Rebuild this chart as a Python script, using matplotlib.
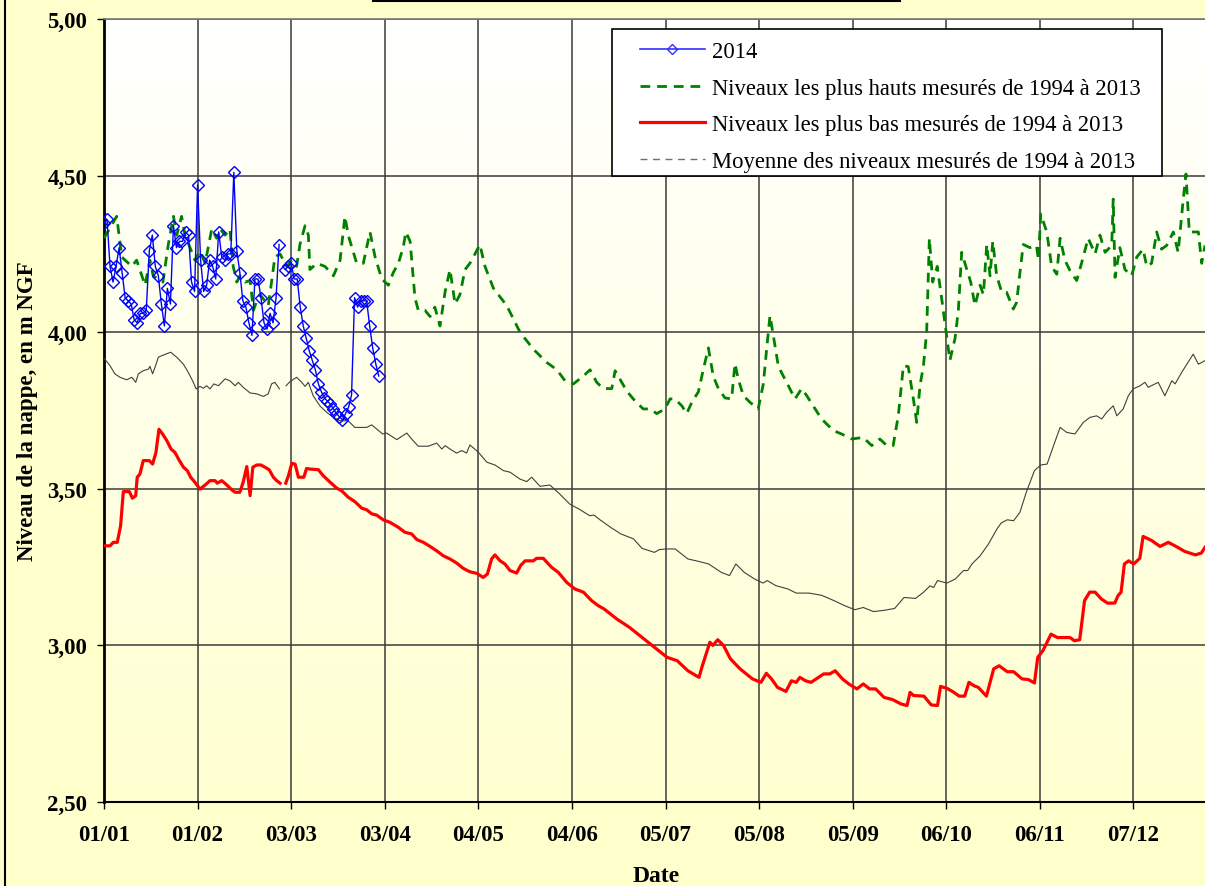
import numpy as np
import matplotlib
matplotlib.use("Agg")
import matplotlib.pyplot as plt
from matplotlib.lines import Line2D
from matplotlib.patches import Rectangle
from matplotlib.colors import LinearSegmentedColormap

# ---------------- data (day offset from 01/01, water level in m NGF) ----------------
tick_days = [0, 31, 62, 93, 124, 155, 186, 217, 248, 279, 310, 341]
tick_labels = ["01/01", "01/02", "03/03", "03/04", "04/05", "04/06",
               "05/07", "05/08", "05/09", "06/10", "06/11", "07/12"]
y_ticks = [2.50, 3.00, 3.50, 4.00, 4.50, 5.00]

# 2014 measurements
days_2014 = list(range(0, 92))
level_2014 = [4.35, 4.36, 4.21, 4.16, 4.21, 4.27, 4.19, 4.11, 4.10, 4.09,
              4.04, 4.03, 4.06, 4.06, 4.07, 4.26, 4.31, 4.21, 4.18, 4.09,
              4.02, 4.14, 4.09, 4.34, 4.27, 4.29, 4.29, 4.32, 4.31, 4.16,
              4.13, 4.47, 4.23, 4.13, 4.15, 4.23, 4.21, 4.17, 4.32, 4.24,
              4.23, 4.25, 4.25, 4.51, 4.26, 4.19, 4.10, 4.08, 4.03, 3.99,
              4.17, 4.17, 4.11, 4.03, 4.01, 4.06, 4.03, 4.11, 4.28, np.nan,
              4.20, 4.21, 4.22, 4.17, 4.17, 4.08, 4.02, 3.98, 3.94, 3.91,
              3.88, 3.835, 3.81, 3.79, 3.78, 3.77, 3.755, 3.74, 3.73, 3.72,
              3.74, 3.76, 3.80, 4.11, 4.08, 4.10, 4.10, 4.10, 4.02, 3.95,
              3.90, 3.86]

# highest levels 1994-2013
days_high = [0, 4.2, 5.9, 9.2, 10.8, 13.6, 15.2, 16.3, 19.5, 21.3, 23, 24.1, 25.7,
             26.8, 28.5, 30.1, 31.8, 33.5, 35.7, 37.3, 38.4, 40.1, 41.7, 42.8, 44,
             45, 46.7, 48.4, 49.5, 50.6, 51.7, 53.3, 54.4, 55.5, 56.6, 58.3, 60.5,
             62.2, 63.8, 64.9, 66.6, 67.7, 68.2, 70.5, 73.2, 76, 78.2, 79.8, 80.9,
             83.7, 85.9, 88.1, 89.8, 92, 94.2, 95.8, 97.5, 99.1, 100, 101.4, 103,
             104.1, 106.3, 108, 109.6, 111.3, 113, 114.6, 116.3, 117.9, 119.6,
             121.2, 122.9, 124.5, 126.2, 129, 133.4, 137.8, 142.2, 146.6, 150,
             152.7, 155.5, 158.8, 161, 163.2, 165.4, 168.2, 169.3, 171.5, 173.1,
             175.3, 178.6, 180.9, 183.1, 185.8, 187.5, 189.1, 191.4, 193, 194.7,
             196.9, 198.5, 200.2, 201.8, 203.5, 205.7, 207.9, 209, 210.1, 211.8,
             214, 216.7, 218.4, 219.5, 220.6, 221.7, 223.4, 226.1, 228.9, 231.1,
             232.8, 234.9, 237.7, 241.6, 244.3, 247.7, 251.5, 254.3, 257, 259.3,
             261.4, 263.1, 264.8, 266.4, 268.1, 269.2, 270.3, 271.4, 272.5, 273.4,
             274.5, 276, 277.5, 279.1, 280.2, 281.9, 283, 284.1, 285.8, 287.1,
             288.5, 290.2, 291.3, 292.4, 293.5, 294.4, 295.7, 297.4, 299, 301.2,
             302.3, 303.4, 304.5, 306.7, 308.9, 309.5, 310.3, 312.3, 313.9, 315.6,
             316.7, 318.3, 320, 322.2, 323.8, 326, 328.3, 329.9, 331.6, 333.8,
             334.3, 334.9, 336.5, 338.2, 340.4, 342.1, 344.2, 345.4, 347, 348.7,
             350.3, 352, 354.2, 355.8, 357.5, 358.4, 359.5, 360.8, 362.5, 363.6,
             364.7]
level_high = [4.30, 4.37, 4.24, 4.21, 4.23, 4.15, 4.23, 4.18, 4.16, 4.28, 4.37, 4.31, 4.37,
              4.31, 4.27, 4.23, 4.26, 4.22, 4.33, 4.30, 4.33, 4.31, 4.33, 4.21, 4.16,
              4.18, 4.16, 4.165, 4.07, 4.10, 4.12, 4.10, 4.085, 4.16, 4.24, 4.25, 4.21,
              4.23, 4.21, 4.28, 4.34, 4.31, 4.20, 4.22, 4.21, 4.18, 4.23, 4.37, 4.31,
              4.22, 4.22, 4.32, 4.24, 4.17, 4.15, 4.19, 4.22, 4.27, 4.32, 4.29, 4.11,
              4.07, 4.07, 4.05, 4.08, 4.02, 4.13, 4.20, 4.09, 4.12, 4.20,
              4.22, 4.25, 4.28, 4.21, 4.14, 4.085, 4.00, 3.946, 3.904, 3.88,
              3.845, 3.835, 3.86, 3.88, 3.84, 3.82, 3.82, 3.877, 3.84, 3.813,
              3.787, 3.755, 3.755, 3.74, 3.755, 3.787, 3.787, 3.765, 3.74, 3.776,
              3.81, 3.88, 3.95, 3.86, 3.82, 3.79, 3.787, 3.90, 3.85, 3.797,
              3.776, 3.755, 3.835, 3.946, 4.053, 3.99, 3.89, 3.84, 3.787, 3.82,
              3.797, 3.765, 3.723, 3.686, 3.675, 3.659, 3.664, 3.638, 3.659, 3.638,
              3.638, 3.733, 3.893, 3.89, 3.787, 3.712, 3.83, 3.89, 4.00, 4.30,
              4.16, 4.21, 4.106, 3.99, 3.91, 3.98, 4.07, 4.255, 4.20, 4.16,
              4.085, 4.15, 4.12, 4.28, 4.18, 4.29, 4.18, 4.127, 4.127, 4.074,
              4.095, 4.19, 4.28, 4.27, 4.277, 4.23, 4.377, 4.32, 4.21, 4.185,
              4.30, 4.23, 4.196, 4.165, 4.22, 4.30, 4.25, 4.31, 4.255, 4.277,
              4.425, 4.175, 4.27, 4.20, 4.18, 4.24, 4.265, 4.21, 4.22, 4.32,
              4.265, 4.277, 4.32, 4.255, 4.425, 4.505, 4.32, 4.32, 4.32, 4.22,
              4.277]

# lowest levels 1994-2013
days_low = [0, 2, 3.1, 4.4, 5.5, 6.4, 8.4, 9.4, 10.5, 11, 11.9, 13, 15, 16.1, 17.2,
            18.2, 19.4, 20.8, 22.2, 23.5, 24.8, 26.3, 27.6, 28.7, 30.1, 31.8, 33.5,
            35.1, 36.8, 37.5, 39, 40.6, 42.3, 43.4, 45, 46.1, 47.3, 48.4, 49.3, 50.6,
            52, 53.3, 54.7, 56.1, 57.2, 58.3, 59, 60.2, 61.1, 62.2, 63.3, 64.4, 66.2,
            67.1, 68.2, 71, 72.6, 74.9, 77.1, 78.7, 80.9, 83.1, 85.4, 87, 88.7, 90.3,
            92.5, 94.7, 97.5, 99.7, 101.9, 103.6, 105.8, 108, 110.2, 112.4, 114.6,
            116.8, 119, 121.2, 123.5, 125.6, 127, 128.4, 129.5, 131.2, 132.8, 134.5,
            136.7, 138, 139.5, 142.2, 143.3, 145.5, 148.3, 150.5, 153.3, 156, 158.8,
            161.5, 163.7, 165.7, 169.9, 174, 177.5, 181, 186.5, 189.9, 193.4, 197.1,
            198.2, 200.7, 201.7, 203.3, 205.2, 207.5, 210.7, 214.8, 217.6, 219.4,
            221.1, 223.1, 225.9, 227.7, 229.3, 230.5, 232.4, 234.2, 238.4, 240.4,
            242.2, 244.6, 246.7, 249.4, 251.5, 253.6, 255.6, 258.4, 261.2, 264, 266,
            267, 268.1, 271.6, 274, 276.1, 277.1, 279.2, 281.2, 283.3, 285.1, 286.5,
            288.2, 289.6, 292.3, 294.7, 296.5, 299.2, 301.3, 304.1, 306.2, 308.2,
            309.3, 311, 313.7, 315.8, 320, 321.4, 323.2, 324.8, 326.5, 328.3, 330.4,
            332.4, 334.8, 335.9, 336.9, 338, 339.4, 341.1, 343.1, 344.2, 347, 349.8,
            352.5, 355.3, 358, 361.5, 363.5, 364.7]
level_low = [3.318, 3.318, 3.329, 3.329, 3.382, 3.491, 3.491, 3.47, 3.478, 3.537, 3.547,
             3.59, 3.59, 3.579, 3.616, 3.69, 3.675, 3.654, 3.627, 3.616, 3.593, 3.569,
             3.558, 3.537, 3.521, 3.499, 3.512, 3.526, 3.526, 3.518, 3.526, 3.513,
             3.497, 3.489, 3.489, 3.521, 3.571, 3.478, 3.569, 3.576, 3.576, 3.569,
             3.561, 3.537, 3.526, 3.518, np.nan, 3.518, 3.542, 3.581, 3.579, 3.537,
             3.537, 3.565, 3.563, 3.561, 3.542, 3.521, 3.502, 3.494, 3.473, 3.459,
             3.438, 3.433, 3.42, 3.416, 3.401, 3.393, 3.377, 3.361, 3.356, 3.338,
             3.329, 3.316, 3.302, 3.286, 3.276, 3.263, 3.246, 3.235, 3.23, 3.217,
             3.228, 3.276, 3.289, 3.27, 3.26, 3.239, 3.231, 3.255, 3.27, 3.27, 3.278,
             3.278, 3.249, 3.233, 3.201, 3.18, 3.17, 3.143, 3.127, 3.116, 3.084,
             3.058, 3.031, 3.004, 2.962, 2.951, 2.919, 2.898, 2.935, 3.01, 3.0, 3.018,
             3.0, 2.957, 2.925, 2.893, 2.882, 2.911, 2.893, 2.866, 2.853, 2.887,
             2.882, 2.898, 2.887, 2.882, 2.909, 2.909, 2.919, 2.893, 2.877, 2.861,
             2.877, 2.861, 2.861, 2.834, 2.827, 2.813, 2.808, 2.85, 2.84, 2.838, 2.81,
             2.808, 2.869, 2.863, 2.852, 2.838, 2.838, 2.882, 2.871, 2.866, 2.838,
             2.925, 2.935, 2.916, 2.916, 2.893, 2.891, 2.88, 2.962, 2.983, 3.036,
             3.025, 3.025, 3.015, 3.018, 3.143, 3.17, 3.17, 3.148, 3.135, 3.135,
             3.159, 3.17, 3.26, 3.27, 3.26, 3.278, 3.348, 3.335, 3.316, 3.329, 3.315,
             3.30, 3.289, 3.295, 3.313]

# mean levels 1994-2013
days_mean = [0, 2, 3.6, 5.3, 7.5, 9.2, 10.5, 11.4, 13, 14.7, 15.2, 16.1, 16.9, 18,
             19.1, 20.5, 22.1, 24.1, 26.3, 27.9, 29.6, 30.5, 31.8, 32.9, 34, 35.1,
             36.4, 37.9, 40.1, 41.7, 43.4, 44.5, 46.1, 48.4, 50.6, 52.8, 54.4, 55.5,
             56.6, 58.1, 59, 60.3, 61.6, 63.8, 65.5, 66.6, 67.7, 69.3, 71.5, 73.8, 76,
             78.2, 80.9, 83.1, 87, 88.7, 90.3, 92.3, 93.6, 97, 100.3, 101.9, 104.1,
             107.4, 110.2, 111.9, 113, 114.6, 116.8, 118.5, 120.1, 121.2, 124, 126.8,
             129.5, 132.3, 134.5, 137.8, 140, 141.7, 144.4, 147.7, 151, 154.3, 157.4,
             160.9, 162.3, 164.3, 167.8, 171.2, 175.4, 178.2, 182.3, 184, 186.5,
             189.2, 193.4, 196.2, 200.3, 204.5, 207.2, 209.3, 212.1, 215.5, 218.3,
             219.7, 222.5, 226.6, 229.3, 233.5, 237.7, 241.8, 245.3, 248.7, 251.5,
             254.9, 258.4, 261.9, 265, 268.8, 271.5, 273.6, 274.8, 276.1, 279.2, 282,
             284.7, 286.1, 287.5, 290.2, 293, 295.8, 297.2, 299.2, 301.3, 303.4,
             305.5, 308.2, 310.3, 312.4, 314.4, 316.7, 318.9, 321.6, 324.4, 326.6,
             328.8, 330.5, 332.1, 334.3, 335.5, 337.6, 339.3, 340.9, 343.2, 344.8,
             345.9, 349.2, 351.4, 353.7, 354.8, 357, 360.8, 362.5, 364.7]
level_mean = [3.917, 3.893, 3.867, 3.856, 3.848, 3.856, 3.84, 3.867, 3.877, 3.882,
              3.891, 3.867, 3.888, 3.92, 3.925, 3.93, 3.936, 3.92, 3.898, 3.872, 3.84,
              3.819, 3.827, 3.821, 3.829, 3.819, 3.835, 3.829, 3.851, 3.845, 3.829,
              3.84, 3.824, 3.806, 3.803, 3.795, 3.803, 3.835, 3.84, 3.819, np.nan,
              3.829, 3.842, 3.856, 3.84, 3.827, 3.84, 3.797, 3.765, 3.744, 3.728,
              3.717, 3.717, 3.696, 3.696, 3.704, 3.691, 3.675, 3.678, 3.657, 3.678,
              3.659, 3.636, 3.636, 3.646, 3.627, 3.638, 3.627, 3.614, 3.622, 3.614,
              3.64, 3.617, 3.585, 3.576, 3.558, 3.553, 3.531, 3.523, 3.537, 3.508,
              3.512, 3.483, 3.451, 3.435, 3.414, 3.416, 3.401, 3.377, 3.356, 3.34,
              3.31, 3.297, 3.306, 3.308, 3.308, 3.276, 3.27, 3.26, 3.233, 3.223,
              3.26, 3.233, 3.212, 3.199, 3.207, 3.191, 3.18, 3.167, 3.167, 3.16,
              3.143, 3.127, 3.114, 3.121, 3.108, 3.112, 3.118, 3.153, 3.15, 3.17,
              3.19, 3.185, 3.207, 3.199, 3.212, 3.239, 3.239, 3.26, 3.286, 3.324,
              3.372, 3.391, 3.401, 3.398, 3.425, 3.489, 3.558, 3.576, 3.579, 3.634,
              3.696, 3.68, 3.675, 3.712, 3.728, 3.733, 3.723, 3.744, 3.765, 3.733,
              3.755, 3.797, 3.819, 3.829, 3.84, 3.824, 3.84, 3.797, 3.845, 3.835,
              3.872, 3.93, 3.898, 3.909]

labels = ["2014",
          "Niveaux les plus hauts mesurés de 1994 à 2013",
          "Niveaux les plus bas mesurés de 1994 à 2013",
          "Moyenne des niveaux mesurés de 1994 à 2013"]

# ---------------- figure ----------------
W, H = 1205, 887
serif = ["Liberation Serif", "DejaVu Serif"]
plt.rcParams["font.family"] = serif

fig = plt.figure(figsize=(W / 100, H / 100), dpi=100, facecolor="#FFFFCC")
L, R, T, B = 104, 1205, 20, 803
ax = fig.add_axes([L / W, 1 - B / H, (R - L) / W, (B - T) / H])

xmax = 364.7
ymin, ymax = 2.5, 5.0

# gradient background of plot area
cmap = LinearSegmentedColormap.from_list("bg", ["#FFFFFF", "#FFFFD0"])
grad = np.linspace(0, 1, 256)[:, None]
ax.imshow(grad, extent=[0, xmax, ymin, ymax], aspect="auto", cmap=cmap,
          zorder=0, interpolation="bilinear")

ax.plot(days_mean, level_mean, color="#404040", lw=0.8, zorder=3)
ax.plot(days_low, level_low, color="#FF0000", lw=2.3, zorder=4)
ax.plot(days_high, level_high, color="#008000", lw=2.0, dashes=(3.5, 2.5), zorder=5)
ax.plot(days_2014, level_2014, color="#0000FF", lw=1.0, marker="D", ms=6,
        mfc="none", mec="#0000FF", mew=1.0, zorder=6)

ax.set_xlim(0, xmax)
ax.set_ylim(ymin, ymax)

ax.set_xticks(tick_days)
ax.set_xticklabels(tick_labels)
ax.set_yticks(y_ticks)
ax.set_yticklabels([f"{v:.2f}".replace(".", ",") for v in y_ticks])

for lab in ax.get_xticklabels() + ax.get_yticklabels():
    lab.set_fontweight("bold")
    lab.set_fontsize(16.5)
    lab.set_family(serif)

ax.tick_params(axis="x", direction="out", length=5, width=1.0, pad=11, colors="black")
ax.tick_params(axis="y", direction="out", length=5, width=1.0, pad=7, colors="black")

ax.grid(True, color="#3A3A3A", lw=1.1)
ax.set_axisbelow(True)

ax.spines["left"].set_color("black")
ax.spines["left"].set_linewidth(2.0)
ax.spines["bottom"].set_color("black")
ax.spines["bottom"].set_linewidth(1.5)
ax.spines["top"].set_color("#7A7A7A")
ax.spines["top"].set_linewidth(1.2)
ax.spines["right"].set_visible(False)

ax.set_ylabel("Niveau de la nappe, en m NGF", fontsize=16.5, fontweight="bold",
              family=serif)
ax.yaxis.set_label_coords((38 - L) / (R - L), 0.5)

fig.text(656 / W, 1 - 877 / H, "Date", ha="center", va="center",
         fontsize=17, fontweight="bold", family=serif)

# legend: white box drawn at the reference position, entries placed inside it
box = Rectangle((612 / W, 1 - 177 / H), (1162 - 612) / W, (177 - 30) / H,
                transform=fig.transFigure, facecolor="white", edgecolor="black",
                lw=1.2, zorder=9)
ax.add_artist(box)
handles = [
    Line2D([], [], color="#3030FF", lw=1.2, marker="D", ms=5, mfc="none", mew=1.0),
    Line2D([], [], color="#008000", lw=2.0, dashes=(3.5, 2.5)),
    Line2D([], [], color="#FF0000", lw=2.3),
    Line2D([], [], color="#707070", lw=1.0, dashes=(5, 4)),
]
leg = ax.legend(handles, labels, loc="upper left",
                bbox_to_anchor=(640 / W, 1 - 42 / H),
                bbox_transform=fig.transFigure,
                borderaxespad=0, borderpad=0, frameon=False,
                prop={"family": serif, "size": 16.3}, handlelength=2.87,
                labelspacing=0.69, handletextpad=0.31)
leg.set_zorder(10)

# figure decorations: left frame line and the cut title box
fig.add_artist(Line2D([5 / W, 5 / W], [0, 1], color="black", lw=1.5,
                      transform=fig.transFigure))
fig.add_artist(Rectangle((373 / W, 1 - 2 / H), (900 - 373) / W, 0.05,
                         facecolor="white", edgecolor="black", lw=1.5,
                         transform=fig.transFigure))

fig.savefig("out.png", dpi=100, facecolor=fig.get_facecolor())
